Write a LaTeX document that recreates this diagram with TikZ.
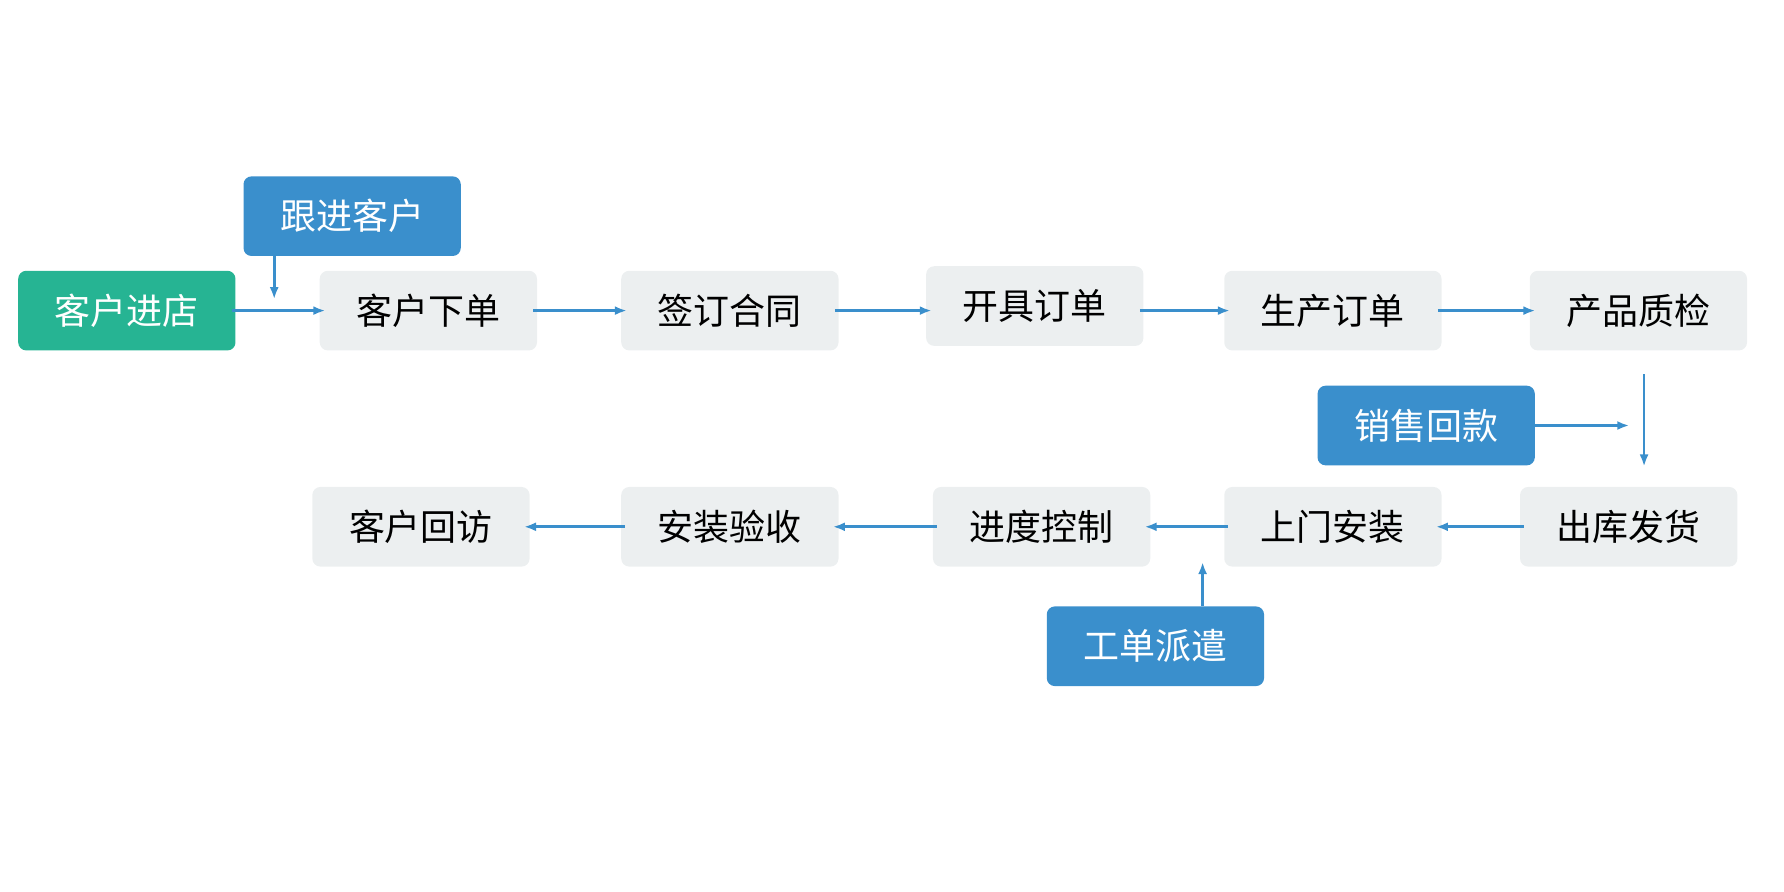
\documentclass[tikz,border=0pt]{standalone}
\usepackage{fontspec}
\setmainfont{Noto Sans CJK SC}
\usetikzlibrary{arrows.meta}
\definecolor{boxgrey}{HTML}{ECEFF0}
\definecolor{flowblue}{HTML}{3A8FCC}
\definecolor{startgreen}{HTML}{26B493}
\begin{document}
\begin{tikzpicture}[x=0.02cm,y=-0.02cm,
	box/.style={fill=boxgrey,rounded corners=4pt,minimum width=3.82cm,minimum height=1.4cm,inner sep=0pt,font=\fontsize{18pt}{21pt}\selectfont},
	bluebox/.style={box,fill=flowblue,text=white},
	greenbox/.style={box,fill=startgreen,text=white},
	flow/.style={draw=flowblue,line width=1.3pt,-{Latex[length=6pt,width=4.5pt]},shorten >=-3pt,shorten <=-2pt}]
	\useasboundingbox (0,0) rectangle (1568,784);
	% first row
	\node[greenbox] (khjd) at (111.5,273){客户进店};
	\node[box] (khxd) at (376.5,273){客户下单};
	\node[box] (qdht) at (641.5,273){签订合同};
	\node[box] (kjdd) at (909.5,269){开具订单};
	\node[box] (scdd) at (1171.5,273){生产订单};
	\node[box] (cpzj) at (1440,273){产品质检};
	\node[bluebox] (gjkh) at (309.5,190){跟进客户};
	\node[bluebox] (xshk) at (1253.5,374){销售回款};
	% second row
	\node[box] (ckfh) at (1431.5,463){出库发货};
	\node[box] (smaz) at (1171.5,463){上门安装};
	\node[box] (jdkz) at (915.5,463){进度控制};
	\node[box] (azys) at (641.5,463){安装验收};
	\node[box] (khhf) at (370,463){客户回访};
	\node[bluebox] (gdpq) at (1015.5,568){工单派遣};
	% free ends
	\coordinate (gjend) at (241,263);
	\coordinate (zjtop) at (1445,329);
	\coordinate (zjend) at (1445,410);
	\coordinate (hkend) at (1432,374);
	\coordinate (pqend) at (1057,494);
	\draw[flow] (khjd) -- (khxd);
	\draw[flow] (khxd) -- (qdht);
	\draw[flow] (qdht.east) -- (qdht.east -| kjdd.west);
	\draw[flow] (kjdd.east |- scdd) -- (scdd);
	\draw[flow] (scdd) -- (cpzj);
	\draw[flow,shorten <=0pt,shorten >=0pt] (gjkh.south -| gjend) -- (gjend);
	\draw[flow,shorten <=0pt,shorten >=0pt] (zjtop) -- (zjend);
	\draw[flow,shorten <=0pt,shorten >=0pt] (xshk) -- (hkend);
	\draw[flow] (ckfh) -- (smaz);
	\draw[flow] (smaz) -- (jdkz);
	\draw[flow] (jdkz) -- (azys);
	\draw[flow] (azys) -- (khhf);
	\draw[flow,shorten <=0pt,shorten >=0pt] (gdpq.north -| pqend) -- (pqend);
\end{tikzpicture}
\end{document}
